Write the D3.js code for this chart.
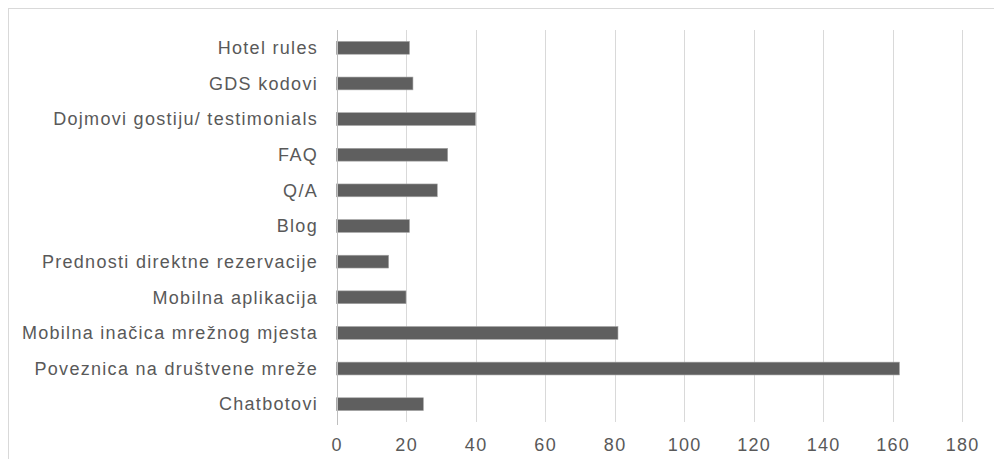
<!DOCTYPE html>
<html><head><meta charset="utf-8">
<script src="https://cdn.jsdelivr.net/npm/d3@7"></script>
<style>body{margin:0;background:#fff;overflow:hidden}svg{display:block}</style>
</head><body>
<svg id="c" width="994" height="459"></svg>
<script>
const categories = ["Hotel rules","GDS kodovi","Dojmovi gostiju/ testimonials","FAQ","Q/A","Blog","Prednosti direktne rezervacije","Mobilna aplikacija","Mobilna inačica mrežnog mjesta","Poveznica na društvene mreže","Chatbotovi"];
const values = [21,22,40,32,29,21,15,20,81,162,25];
const xTicks = [0,20,40,60,80,100,120,140,160,180];

const svg = d3.select("#c");
const m = {left:336.5, right:962, top:30, bottom:422};
const x = d3.scaleLinear().domain([0,180]).range([m.left,m.right]);
const y = d3.scaleBand().domain(categories).range([m.top,m.bottom]).paddingInner(0.64).paddingOuter(0.32);

// frame
svg.append("rect").attr("x",8.5).attr("y",8.5).attr("width",1100).attr("height",600)
  .attr("fill","none").attr("stroke","#d9d9d9").attr("stroke-width",1);

// gridlines
svg.append("g").selectAll("line").data(xTicks.slice(1)).join("line")
  .attr("x1",d=>Math.round(x(d))+0.5).attr("x2",d=>Math.round(x(d))+0.5)
  .attr("y1",m.top).attr("y2",m.bottom)
  .attr("stroke","#d9d9d9").attr("stroke-width",1);

// bars
svg.append("g").selectAll("rect").data(categories).join("rect")
  .attr("x",x(0)).attr("y",d=>y(d))
  .attr("width",(d,i)=>x(values[i])-x(0)).attr("height",y.bandwidth())
  .attr("fill","#5f5f5f").attr("stroke","#a6a6a6").attr("stroke-width",0.6);

// vertical axis line
svg.append("line").attr("x1",Math.round(x(0))+0.5).attr("x2",Math.round(x(0))+0.5)
  .attr("y1",m.top).attr("y2",425).attr("stroke","#bfbfbf");

const font = "'Liberation Sans', Arial, sans-serif";
// category labels
svg.append("g").selectAll("text").data(categories).join("text")
  .attr("x",318).attr("y",d=>y(d)+y.bandwidth()/2)
  .attr("dy","0.35em").attr("text-anchor","end")
  .attr("font-family",font).attr("font-size",18).attr("letter-spacing","1.3px")
  .attr("fill","#595959").text(d=>d);

// x tick labels
svg.append("g").selectAll("text").data(xTicks).join("text")
  .attr("x",d=>x(d)+0.65).attr("y",451)
  .attr("text-anchor","middle")
  .attr("font-family",font).attr("font-size",18).attr("letter-spacing","1.3px")
  .attr("fill","#595959").text(d=>d);
</script>
</body></html>
